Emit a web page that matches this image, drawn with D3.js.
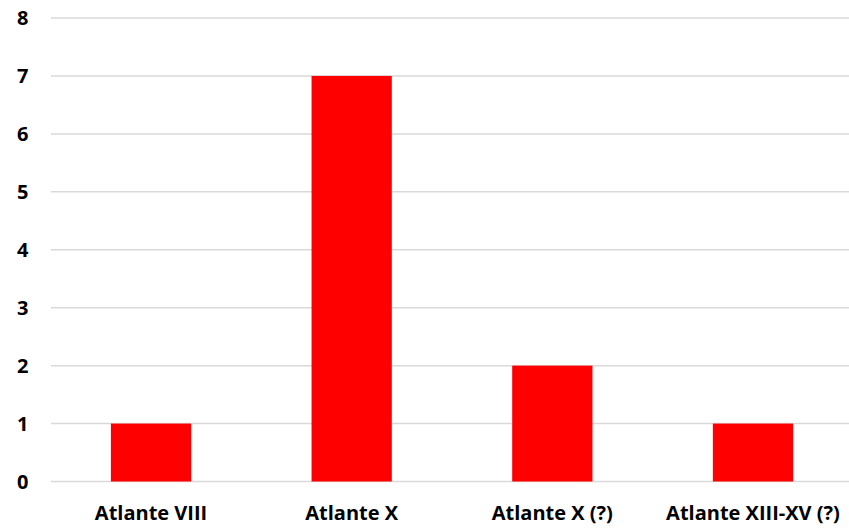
<!DOCTYPE html>
<html><head><meta charset="utf-8">
<script src="https://cdn.jsdelivr.net/npm/d3@7"></script>
<style>body{margin:0;background:#fff;} svg{display:block;}</style>
</head><body>
<svg id="chart" width="849" height="530"></svg>
<script>
const categories = ["Atlante VIII", "Atlante X", "Atlante X (?)", "Atlante XIII-XV (?)"];
const values = [1, 7, 2, 1];
const yTicks = [0, 1, 2, 3, 4, 5, 6, 7, 8];

const svg = d3.select("#chart");
const font = "'Open Sans', sans-serif";
const x = d3.scaleBand().domain(categories).range([50.7, 853.3]).paddingInner(0.6).paddingOuter(0.3);
const y = d3.scaleLinear().domain([0, 8]).range([481.5, 18]);

svg.append("g").selectAll("line").data(yTicks).join("line")
  .attr("x1", 51).attr("x2", 849)
  .attr("y1", d => y(d)).attr("y2", d => y(d))
  .attr("stroke", "#d9d9d9").attr("stroke-width", 1.5);

svg.append("g").selectAll("text").data(yTicks).join("text")
  .attr("x", 28.5).attr("y", d => y(d)).attr("dy", "0.36em")
  .attr("text-anchor", "end")
  .style("font-family", font).style("font-weight", "bold").style("font-size", "20px")
  .attr("fill", "#000").text(d => d);

svg.append("g").selectAll("rect").data(values).join("rect")
  .attr("x", (d, i) => x(categories[i]))
  .attr("width", x.bandwidth())
  .attr("y", d => y(d))
  .attr("height", d => y(0) - y(d))
  .attr("fill", "#ff0000");

svg.append("g").selectAll("text").data(categories).join("text")
  .attr("x", d => x(d) + x.bandwidth() / 2).attr("y", 520)
  .attr("text-anchor", "middle")
  .style("font-family", font).style("font-weight", "bold").style("font-size", "20px")
  .attr("fill", "#000").text(d => d);
</script>
</body></html>
